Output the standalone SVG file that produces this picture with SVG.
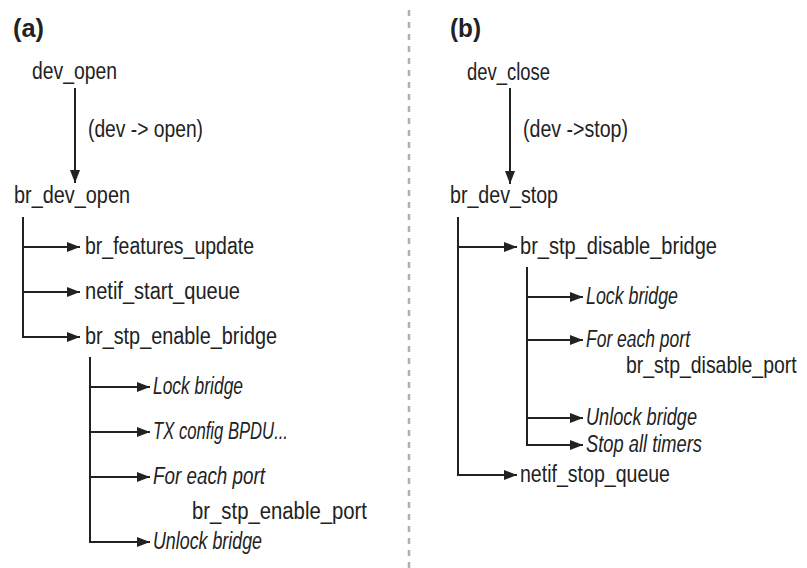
<svg xmlns="http://www.w3.org/2000/svg" width="807" height="568" viewBox="0 0 807 568">
<style>
text{font-family:"Liberation Sans",Arial,sans-serif;font-size:23px;fill:#222}
.it{font-style:italic}
.lbl{font-size:25px;font-weight:bold}
.c line,.c path{stroke:#222;stroke-width:2;fill:none}
</style>
<defs>
<marker id="ah" markerUnits="userSpaceOnUse" markerWidth="14" markerHeight="11" refX="13" refY="5.5" orient="auto">
<path d="M0,0.5 L13,5.5 L0,10.5 z" fill="#222"/>
</marker>
</defs>
<rect width="807" height="568" fill="#fff"/>
<line x1="409" y1="10" x2="409" y2="568" stroke="#b0b0b0" stroke-width="2.5" stroke-dasharray="6 6"/>
<text class="lbl" x="13" y="37" textLength="31" lengthAdjust="spacingAndGlyphs">(a)</text>
<text class="lbl" x="450" y="37" textLength="31" lengthAdjust="spacingAndGlyphs">(b)</text>

<g class="c" id="connectors">
<line x1="75" y1="88" x2="75" y2="183" marker-end="url(#ah)"/>
<line x1="23" y1="217" x2="23" y2="337"/>
<line x1="22" y1="247" x2="80" y2="247" marker-end="url(#ah)"/>
<line x1="22" y1="292" x2="80" y2="292" marker-end="url(#ah)"/>
<line x1="22" y1="337" x2="80" y2="337" marker-end="url(#ah)"/>
<line x1="90" y1="357" x2="90" y2="542"/>
<line x1="89" y1="387" x2="150" y2="387" marker-end="url(#ah)"/>
<line x1="89" y1="432" x2="150" y2="432" marker-end="url(#ah)"/>
<line x1="89" y1="477" x2="150" y2="477" marker-end="url(#ah)"/>
<line x1="89" y1="542" x2="150" y2="542" marker-end="url(#ah)"/>
<line x1="510" y1="88" x2="510" y2="184" marker-end="url(#ah)"/>
<line x1="458" y1="217" x2="458" y2="475"/>
<line x1="457" y1="247" x2="517" y2="247" marker-end="url(#ah)"/>
<line x1="457" y1="475" x2="517" y2="475" marker-end="url(#ah)"/>
<line x1="527" y1="267" x2="527" y2="445"/>
<line x1="526" y1="297" x2="583" y2="297" marker-end="url(#ah)"/>
<line x1="526" y1="340" x2="583" y2="340" marker-end="url(#ah)"/>
<line x1="526" y1="418" x2="583" y2="418" marker-end="url(#ah)"/>
<line x1="526" y1="445" x2="583" y2="445" marker-end="url(#ah)"/>
</g>

<g id="dev_open"><text x="32" y="79" textLength="85" lengthAdjust="spacingAndGlyphs">dev_open</text></g>
<g id="label_open"><text x="88" y="137" textLength="115" lengthAdjust="spacingAndGlyphs">(dev -&gt; open)</text></g>
<g id="br_dev_open"><text x="14" y="203" textLength="116" lengthAdjust="spacingAndGlyphs">br_dev_open</text></g>
<g id="br_features_update"><text x="85" y="254" textLength="169" lengthAdjust="spacingAndGlyphs">br_features_update</text></g>
<g id="netif_start_queue"><text x="85" y="299" textLength="155" lengthAdjust="spacingAndGlyphs">netif_start_queue</text></g>
<g id="br_stp_enable_bridge"><text x="85" y="344" textLength="192" lengthAdjust="spacingAndGlyphs">br_stp_enable_bridge</text></g>
<g id="a_lock"><text class="it" x="153" y="394" textLength="90" lengthAdjust="spacingAndGlyphs">Lock bridge</text></g>
<g id="a_tx"><text class="it" x="153" y="439" textLength="135" lengthAdjust="spacingAndGlyphs">TX config BPDU...</text></g>
<g id="a_foreach"><text class="it" x="153" y="484" textLength="112" lengthAdjust="spacingAndGlyphs">For each port</text>
<text x="192" y="519" textLength="175" lengthAdjust="spacingAndGlyphs">br_stp_enable_port</text></g>
<g id="a_unlock"><text class="it" x="153" y="549" textLength="109" lengthAdjust="spacingAndGlyphs">Unlock bridge</text></g>

<g id="dev_close"><text x="467" y="80" textLength="83" lengthAdjust="spacingAndGlyphs">dev_close</text></g>
<g id="label_stop"><text x="523" y="137" textLength="105" lengthAdjust="spacingAndGlyphs">(dev -&gt;stop)</text></g>
<g id="br_dev_stop"><text x="450" y="203" textLength="108" lengthAdjust="spacingAndGlyphs">br_dev_stop</text></g>
<g id="br_stp_disable_bridge"><text x="520" y="254" textLength="197" lengthAdjust="spacingAndGlyphs">br_stp_disable_bridge</text></g>
<g id="b_lock"><text class="it" x="586" y="304" textLength="92" lengthAdjust="spacingAndGlyphs">Lock bridge</text></g>
<g id="b_foreach"><text class="it" x="586" y="347" textLength="104" lengthAdjust="spacingAndGlyphs">For each port</text>
<text transform="translate(626,373) scale(0.845,1)" x="0" y="0">br_stp_disable_port</text></g>
<g id="b_unlock"><text class="it" x="586" y="425" textLength="111" lengthAdjust="spacingAndGlyphs">Unlock bridge</text></g>
<g id="b_stoptimers"><text class="it" x="586" y="452" textLength="116" lengthAdjust="spacingAndGlyphs">Stop all timers</text></g>
<g id="netif_stop_queue"><text x="520" y="482" textLength="150" lengthAdjust="spacingAndGlyphs">netif_stop_queue</text></g>
</svg>
